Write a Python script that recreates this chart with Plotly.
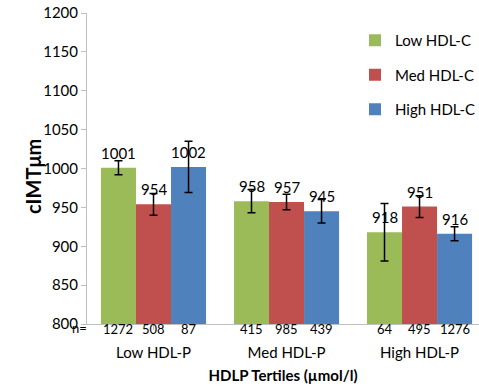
import plotly.graph_objects as go

categories = ["Low HDL-P", "Med HDL-P", "High HDL-P"]
series_names = ["Low HDL-C", "Med HDL-C", "High HDL-C"]
colors = ["#9BBB59", "#C0504D", "#4F81BD"]
values = [
    [1001, 958, 918],
    [954, 957, 951],
    [1002, 945, 916],
]
errors = [
    [9, 15, 37],
    [14, 10, 14],
    [33, 15, 9],
]
counts = [
    [1272, 415, 64],
    [508, 985, 495],
    [87, 439, 1276],
]
y_ticks = [800, 850, 900, 950, 1000, 1050, 1100, 1150, 1200]

FONT = "Lato"
fig = go.Figure()
for i, name in enumerate(series_names):
    fig.add_trace(go.Bar(
        x=list(range(len(categories))), y=values[i], name=name,
        marker=dict(color=colors[i], line=dict(width=0)),
        error_y=dict(type="data", array=errors[i], color="#000000", thickness=1.5, width=4),
        legendgroup=name,
    ))

bw = 0.79 / 3
for i in range(3):
    for j in range(3):
        xpos = j + (i - 1) * bw
        fig.add_annotation(x=xpos, y=values[i][j], xref="x", yref="y",
                           text=str(values[i][j]), showarrow=False, yanchor="bottom", yshift=4,
                           font=dict(family=FONT, size=15, color="#000000"))
        fig.add_annotation(x=xpos, y=0, xref="x", yref="paper",
                           text=str(counts[i][j]), showarrow=False, yanchor="middle", yshift=-5,
                           font=dict(family=FONT, size=13, color="#000000"))
fig.add_annotation(x=0, y=0, xref="paper", yref="paper", text="n=", showarrow=False,
                   xanchor="right", yanchor="middle", xshift=2, yshift=-4,
                   font=dict(family=FONT, size=13, color="#000000"))
fig.add_annotation(x=-68 / 392, y=(324 - 177) / 311, xref="paper", yref="paper",
                   text="<b>cIMTμm</b>", showarrow=False, textangle=-90,
                   font=dict(family=FONT, size=20, color="#000000"))

fig.update_layout(
    width=479, height=389,
    margin=dict(l=87, r=0, t=13, b=65, autoexpand=False),
    paper_bgcolor="white", plot_bgcolor="white",
    barmode="group", bargap=0.21, bargroupgap=0,
    font=dict(family=FONT, color="#000000"),
    showlegend=True,
    legend=dict(x=(481 - 87) / 392, y=(324 - 24) / 311, xanchor="right", yanchor="top",
                font=dict(family=FONT, size=15), tracegroupgap=12,
                bgcolor="rgba(0,0,0,0)", itemwidth=30),
)
fig.update_xaxes(
    range=[-0.5, 2.447], tickmode="array", tickvals=[0, 1, 2], ticktext=categories,
    tickson="boundaries", ticks="outside", ticklen=5, tickcolor="#BFBFBF",
    showline=True, linecolor="#BFBFBF", linewidth=1, showgrid=False, zeroline=False,
    tickfont=dict(family=FONT, size=15), ticklabelstandoff=10, automargin=False,
    title=dict(text="<b>HDLP Tertiles (µmol/l)</b>", font=dict(family=FONT, size=15), standoff=10),
)
fig.update_yaxes(
    range=[800, 1200], tickvals=y_ticks, ticks="outside", ticklen=5, tickcolor="#BFBFBF",
    showline=True, linecolor="#BFBFBF", linewidth=1, showgrid=False, zeroline=False,
    tickfont=dict(family=FONT, size=15), automargin=False,
)
fig.write_html("out.html", config={"displayModeBar": False},
               post_script="document.body.style.margin='0px';document.body.style.overflow='hidden';")
